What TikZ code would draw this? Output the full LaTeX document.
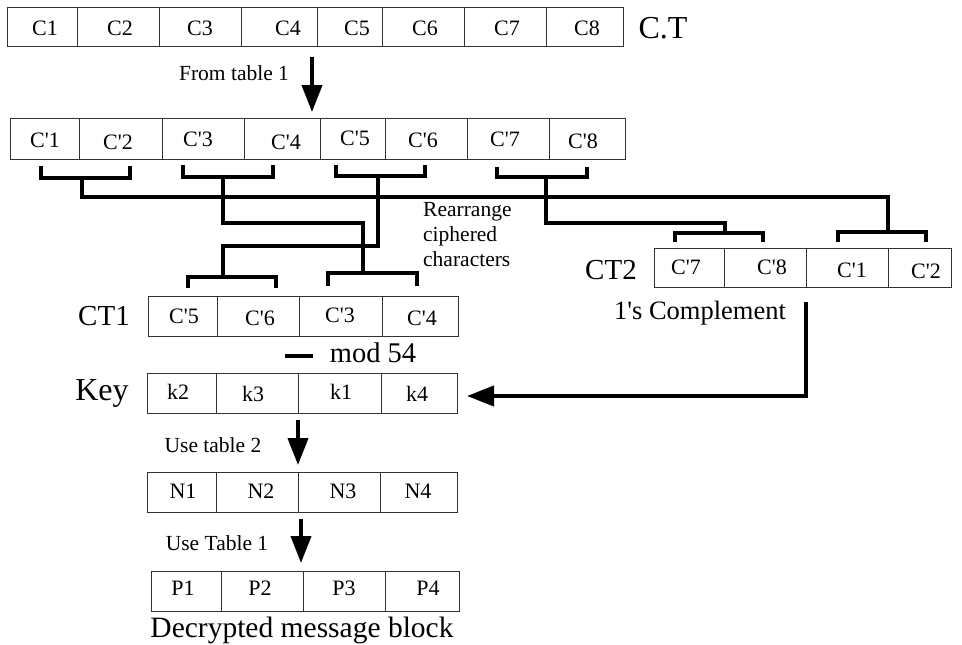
\documentclass[tikz,border=0pt]{standalone}
\usepackage{fontspec}
\setmainfont{Liberation Serif}
\usetikzlibrary{arrows.meta,fit}
\newcommand\ap{\textquotesingle}
\tikzset{
  cell/.style={draw=black!80, line width=1pt, inner sep=0pt, outer sep=0pt},
  txt/.style={inner sep=0pt, font=\fontsize{22}{26}\selectfont},
  lbl/.style={inner sep=0pt, font=\fontsize{21.5}{25}\selectfont},
  biglbl/.style={inner sep=0pt, font=\fontsize{29}{33}\selectfont},
  brk/.style={line width=3.5pt, line join=miter},
  flow/.style={line width=4pt, -{Triangle[length=27pt,width=20pt]}},
}
% name, x1, y1, x2, y2, textx, texty, text
\newcommand\mycell[8]{%
  \node[cell, fit={(#2,#3) (#4,#5)}] (#1) {};
  \node[txt] (#1t) at (#6,#7) {#8};}
\begin{document}
\begin{tikzpicture}[x=1pt,y=-1pt]
\useasboundingbox (0,0) rectangle (962,645);

% Row 1: cipher text
\mycell{a1}{7}{7}{77}{46}{45}{28}{C1}
\mycell{a2}{77}{7}{159}{46}{120}{28}{C2}
\mycell{a3}{159}{7}{241}{46}{200}{28}{C3}
\mycell{a4}{241}{7}{317}{46}{288}{28}{C4}
\mycell{a5}{317}{7}{382}{46}{357}{28}{C5}
\mycell{a6}{382}{7}{464}{46}{425}{28}{C6}
\mycell{a7}{464}{7}{546}{46}{507}{28}{C7}
\mycell{a8}{546}{7}{623}{46}{587}{28}{C8}
\node[biglbl, font=\fontsize{32}{36}\selectfont] (ct) at (663,28) {C.T};

% arrow from table 1
\coordinate (f1s) at (312,57);
\coordinate (f1e) at (312,112);
\draw[flow] (f1s) -- (f1e);
\node[lbl] (fromt) at (234,73) {From table 1};

% Row 2
\mycell{b1}{10}{118}{79}{159}{45}{140}{C\ap 1}
\mycell{b2}{79}{118}{162}{159}{118}{142}{C\ap 2}
\mycell{b3}{162}{118}{244}{159}{198}{139}{C\ap 3}
\mycell{b4}{244}{118}{320}{159}{286}{142}{C\ap 4}
\mycell{b5}{320}{118}{385}{159}{355}{138}{C\ap 5}
\mycell{b6}{385}{118}{467}{159}{423}{140}{C\ap 6}
\mycell{b7}{467}{118}{549}{159}{505}{139}{C\ap 7}
\mycell{b8}{549}{118}{625}{159}{583}{141}{C\ap 8}

% CT1
\mycell{c1}{148}{296}{217}{336}{184}{316}{C\ap 5}
\mycell{c2}{217}{296}{299}{336}{260}{318}{C\ap 6}
\mycell{c3}{299}{296}{382}{336}{340}{315}{C\ap 3}
\mycell{c4}{382}{296}{458}{336}{422}{318}{C\ap 4}
\node[biglbl] (ct1) at (104,316) {CT1};

% CT2
\mycell{d1}{654}{248}{724}{287}{686}{267}{C\ap 7}
\mycell{d2}{724}{248}{806}{287}{772}{267}{C\ap 8}
\mycell{d3}{806}{248}{888}{287}{852}{270}{C\ap 1}
\mycell{d4}{888}{248}{951}{287}{926}{271}{C\ap 2}
\node[biglbl] (ct2) at (611,270) {CT2};
\node[lbl, font=\fontsize{26.5}{30}\selectfont] (comp) at (700,313) {1\ap s Complement};

% Brackets: C'1 C'2 -> CT2
\coordinate (p1) at (41,166);   \coordinate (p2) at (130,166);
\coordinate (q1) at (838,242);  \coordinate (q2) at (926,242);
\draw[brk] (p1) -- (41,178) -- (130,178) -- (p2);
\draw[brk] (82,178) -- (82,197) -- (888,197) -- (888,232);
\draw[brk] (q1) -- (838,232) -- (926,232) -- (q2);

% C'3 C'4 -> CT1 right
\coordinate (p3) at (183,165);  \coordinate (p4) at (273,165);
\coordinate (q3) at (328,286);  \coordinate (q4) at (417,286);
\draw[brk] (p3) -- (183,177) -- (273,177) -- (p4);
\draw[brk] (223,177) -- (223,223) -- (363,223) -- (363,273);
\draw[brk] (q3) -- (328,273) -- (417,273) -- (q4);

% C'5 C'6 -> CT1 left
\coordinate (p5) at (336,165);  \coordinate (p6) at (425,165);
\coordinate (q5) at (188,288);  \coordinate (q6) at (276,288);
\draw[brk] (p5) -- (336,176) -- (425,176) -- (p6);
\draw[brk] (378,176) -- (378,246) -- (223,246) -- (223,277);
\draw[brk] (q5) -- (188,277) -- (276,277) -- (q6);

% C'7 C'8 -> CT2
\coordinate (p7) at (497,167);  \coordinate (p8) at (587,167);
\coordinate (q7) at (675,242);  \coordinate (q8) at (763,242);
\draw[brk] (p7) -- (497,177) -- (587,177) -- (p8);
\draw[brk] (546,177) -- (546,223) -- (725,223) -- (725,233);
\draw[brk] (q7) -- (675,233) -- (763,233) -- (q8);

\node[lbl, align=left, anchor=west] (rearr) at (423,235) {Rearrange\\ciphered\\characters};

% mod 54
\coordinate (m1) at (285,356); \coordinate (m2) at (313,356);
\draw[line width=3.8pt] (m1) -- (m2);
\node[lbl, font=\fontsize{28.5}{32}\selectfont] (mod) at (373,353) {mod 54};

% Key
\mycell{k1}{147}{373}{216}{413}{178}{392}{k2}
\mycell{k2}{216}{373}{298}{413}{253}{394}{k3}
\mycell{k3}{298}{373}{381}{413}{341}{392}{k1}
\mycell{k4}{381}{373}{457}{413}{417}{394}{k4}
\node[biglbl, font=\fontsize{32}{36}\selectfont] (key) at (102,393) {Key};

% arrow from 1's complement to key
\coordinate (cs) at (806,302);
\coordinate (ce) at (467,396);
\draw[flow, line join=miter] (cs) |- (ce);

% arrow use table 2
\coordinate (u2s) at (298,420);
\coordinate (u2e) at (298,465);
\draw[flow] (u2s) -- (u2e);
\node[lbl] (ut2) at (213,445) {Use table 2};

% N row
\mycell{n1}{147}{472}{216}{512}{183}{491}{N1}
\mycell{n2}{216}{472}{298}{512}{261}{491}{N2}
\mycell{n3}{298}{472}{380}{512}{343}{491}{N3}
\mycell{n4}{380}{472}{457}{512}{418}{491}{N4}

% arrow use table 1
\coordinate (u1s) at (301,519);
\coordinate (u1e) at (301,563);
\draw[flow] (u1s) -- (u1e);
\node[lbl] (ut1) at (217,543) {Use Table 1};

% P row
\mycell{m1c}{151}{571}{221}{611}{183}{588}{P1}
\mycell{m2c}{221}{571}{303}{611}{260}{588}{P2}
\mycell{m3c}{303}{571}{385}{611}{344}{588}{P3}
\mycell{m4c}{385}{571}{459}{611}{428}{588}{P4}
\node[lbl, font=\fontsize{29.5}{33}\selectfont] (dec) at (302,630) {Decrypted message block};

\end{tikzpicture}
\end{document}
